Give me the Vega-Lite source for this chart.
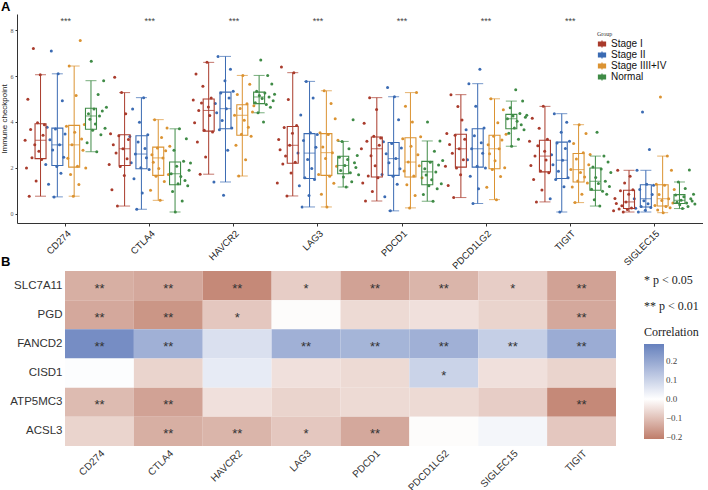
{
"$schema":"https://vega.github.io/schema/vega-lite/v6.json",
"background":"white",
"padding":{"left":0,"top":1,"right":0,"bottom":0},
"config":{"view":{"stroke":null},"font":"Liberation Sans","axis":{"labelFont":"Liberation Sans","titleFont":"Liberation Sans"}},
"datasets":{
"samples":[
{"s":"a01","grp":"Stage I"},{"s":"a02","grp":"Stage I"},{"s":"a03","grp":"Stage I"},{"s":"a04","grp":"Stage I"},{"s":"a05","grp":"Stage I"},{"s":"a06","grp":"Stage I"},{"s":"a07","grp":"Stage I"},{"s":"a08","grp":"Stage I"},{"s":"a09","grp":"Stage I"},{"s":"a10","grp":"Stage I"},{"s":"a11","grp":"Stage I"},{"s":"a12","grp":"Stage I"},{"s":"a13","grp":"Stage I"},{"s":"a14","grp":"Stage I"},{"s":"a15","grp":"Stage I"},
{"s":"b01","grp":"Stage II"},{"s":"b02","grp":"Stage II"},{"s":"b03","grp":"Stage II"},{"s":"b04","grp":"Stage II"},{"s":"b05","grp":"Stage II"},{"s":"b06","grp":"Stage II"},{"s":"b07","grp":"Stage II"},{"s":"b08","grp":"Stage II"},{"s":"b09","grp":"Stage II"},{"s":"b10","grp":"Stage II"},{"s":"b11","grp":"Stage II"},{"s":"b12","grp":"Stage II"},{"s":"b13","grp":"Stage II"},{"s":"b14","grp":"Stage II"},{"s":"b15","grp":"Stage II"},
{"s":"c01","grp":"Stage IIII+IV"},{"s":"c02","grp":"Stage IIII+IV"},{"s":"c03","grp":"Stage IIII+IV"},{"s":"c04","grp":"Stage IIII+IV"},{"s":"c05","grp":"Stage IIII+IV"},{"s":"c06","grp":"Stage IIII+IV"},{"s":"c07","grp":"Stage IIII+IV"},{"s":"c08","grp":"Stage IIII+IV"},{"s":"c09","grp":"Stage IIII+IV"},{"s":"c10","grp":"Stage IIII+IV"},{"s":"c11","grp":"Stage IIII+IV"},{"s":"c12","grp":"Stage IIII+IV"},{"s":"c13","grp":"Stage IIII+IV"},{"s":"c14","grp":"Stage IIII+IV"},{"s":"c15","grp":"Stage IIII+IV"},
{"s":"d01","grp":"Normal"},{"s":"d02","grp":"Normal"},{"s":"d03","grp":"Normal"},{"s":"d04","grp":"Normal"},{"s":"d05","grp":"Normal"},{"s":"d06","grp":"Normal"},{"s":"d07","grp":"Normal"},{"s":"d08","grp":"Normal"},{"s":"d09","grp":"Normal"},{"s":"d10","grp":"Normal"},{"s":"d11","grp":"Normal"},{"s":"d12","grp":"Normal"},{"s":"d13","grp":"Normal"},{"s":"d14","grp":"Normal"},{"s":"d15","grp":"Normal"}
],
"expr":[
{"s":"a01","g":"CD274","v":3.2},{"s":"a02","g":"CD274","v":1.99},{"s":"a03","g":"CD274","v":4.99},{"s":"a04","g":"CD274","v":0.76},{"s":"a05","g":"CD274","v":3.67},{"s":"a06","g":"CD274","v":2.44},{"s":"a07","g":"CD274","v":7.2},{"s":"a08","g":"CD274","v":3.0},{"s":"a09","g":"CD274","v":1.42},{"s":"a10","g":"CD274","v":3.96},{"s":"a11","g":"CD274","v":2.72},{"s":"a12","g":"CD274","v":6.06},{"s":"a13","g":"CD274","v":2.36},{"s":"a14","g":"CD274","v":3.42},{"s":"a15","g":"CD274","v":3.88},
{"s":"b01","g":"CD274","v":2.14},{"s":"b02","g":"CD274","v":3.77},{"s":"b03","g":"CD274","v":1.28},{"s":"b04","g":"CD274","v":3.22},{"s":"b05","g":"CD274","v":7.1},{"s":"b06","g":"CD274","v":2.78},{"s":"b07","g":"CD274","v":0.73},{"s":"b08","g":"CD274","v":3.69},{"s":"b09","g":"CD274","v":2.06},{"s":"b10","g":"CD274","v":6.1},{"s":"b11","g":"CD274","v":3.0},{"s":"b12","g":"CD274","v":1.76},{"s":"b13","g":"CD274","v":4.92},{"s":"b14","g":"CD274","v":2.46},{"s":"b15","g":"CD274","v":3.47},
{"s":"c01","g":"CD274","v":3.81},{"s":"c02","g":"CD274","v":2.42},{"s":"c03","g":"CD274","v":6.44},{"s":"c04","g":"CD274","v":1.71},{"s":"c05","g":"CD274","v":3.0},{"s":"c06","g":"CD274","v":0.76},{"s":"c07","g":"CD274","v":3.55},{"s":"c08","g":"CD274","v":5.15},{"s":"c09","g":"CD274","v":2.07},{"s":"c10","g":"CD274","v":1.27},{"s":"c11","g":"CD274","v":7.55},{"s":"c12","g":"CD274","v":3.26},{"s":"c13","g":"CD274","v":2.76},{"s":"c14","g":"CD274","v":3.89},{"s":"c15","g":"CD274","v":1.99},
{"s":"d01","g":"CD274","v":3.09},{"s":"d02","g":"CD274","v":4.36},{"s":"d03","g":"CD274","v":4.12},{"s":"d04","g":"CD274","v":6.65},{"s":"d05","g":"CD274","v":3.64},{"s":"d06","g":"CD274","v":4.56},{"s":"d07","g":"CD274","v":3.91},{"s":"d08","g":"CD274","v":2.7},{"s":"d09","g":"CD274","v":5.2},{"s":"d10","g":"CD274","v":4.26},{"s":"d11","g":"CD274","v":3.44},{"s":"d12","g":"CD274","v":4.48},{"s":"d13","g":"CD274","v":5.8},{"s":"d14","g":"CD274","v":3.72},{"s":"d15","g":"CD274","v":4.64},
{"s":"a01","g":"CTLA4","v":2.14},{"s":"a02","g":"CTLA4","v":3.48},{"s":"a03","g":"CTLA4","v":1.04},{"s":"a04","g":"CTLA4","v":3.01},{"s":"a05","g":"CTLA4","v":5.95},{"s":"a06","g":"CTLA4","v":2.65},{"s":"a07","g":"CTLA4","v":0.33},{"s":"a08","g":"CTLA4","v":3.4},{"s":"a09","g":"CTLA4","v":2.06},{"s":"a10","g":"CTLA4","v":5.28},{"s":"a11","g":"CTLA4","v":2.83},{"s":"a12","g":"CTLA4","v":1.66},{"s":"a13","g":"CTLA4","v":4.36},{"s":"a14","g":"CTLA4","v":2.39},{"s":"a15","g":"CTLA4","v":3.23},
{"s":"b01","g":"CTLA4","v":3.36},{"s":"b02","g":"CTLA4","v":2.22},{"s":"b03","g":"CTLA4","v":4.56},{"s":"b04","g":"CTLA4","v":1.52},{"s":"b05","g":"CTLA4","v":2.6},{"s":"b06","g":"CTLA4","v":0.19},{"s":"b07","g":"CTLA4","v":3.12},{"s":"b08","g":"CTLA4","v":3.99},{"s":"b09","g":"CTLA4","v":2.0},{"s":"b10","g":"CTLA4","v":0.9},{"s":"b11","g":"CTLA4","v":5.06},{"s":"b12","g":"CTLA4","v":2.84},{"s":"b13","g":"CTLA4","v":2.44},{"s":"b14","g":"CTLA4","v":3.44},{"s":"b15","g":"CTLA4","v":1.92},
{"s":"c01","g":"CTLA4","v":1.02},{"s":"c02","g":"CTLA4","v":2.57},{"s":"c03","g":"CTLA4","v":2.24},{"s":"c04","g":"CTLA4","v":4.1},{"s":"c05","g":"CTLA4","v":1.63},{"s":"c06","g":"CTLA4","v":2.86},{"s":"c07","g":"CTLA4","v":1.97},{"s":"c08","g":"CTLA4","v":0.58},{"s":"c09","g":"CTLA4","v":3.32},{"s":"c10","g":"CTLA4","v":2.43},{"s":"c11","g":"CTLA4","v":1.4},{"s":"c12","g":"CTLA4","v":2.74},{"s":"c13","g":"CTLA4","v":3.74},{"s":"c14","g":"CTLA4","v":1.71},{"s":"c15","g":"CTLA4","v":2.94},
{"s":"d01","g":"CTLA4","v":1.74},{"s":"d02","g":"CTLA4","v":0.96},{"s":"d03","g":"CTLA4","v":2.77},{"s":"d04","g":"CTLA4","v":0.07},{"s":"d05","g":"CTLA4","v":2.07},{"s":"d06","g":"CTLA4","v":1.3},{"s":"d07","g":"CTLA4","v":3.7},{"s":"d08","g":"CTLA4","v":1.62},{"s":"d09","g":"CTLA4","v":0.55},{"s":"d10","g":"CTLA4","v":2.29},{"s":"d11","g":"CTLA4","v":1.45},{"s":"d12","g":"CTLA4","v":3.27},{"s":"d13","g":"CTLA4","v":1.22},{"s":"d14","g":"CTLA4","v":1.89},{"s":"d15","g":"CTLA4","v":2.21},
{"s":"a01","g":"HAVCR2","v":4.96},{"s":"a02","g":"HAVCR2","v":3.96},{"s":"a03","g":"HAVCR2","v":6.09},{"s":"a04","g":"HAVCR2","v":3.13},{"s":"a05","g":"HAVCR2","v":4.5},{"s":"a06","g":"HAVCR2","v":1.72},{"s":"a07","g":"HAVCR2","v":4.83},{"s":"a08","g":"HAVCR2","v":5.56},{"s":"a09","g":"HAVCR2","v":3.64},{"s":"a10","g":"HAVCR2","v":2.47},{"s":"a11","g":"HAVCR2","v":6.6},{"s":"a12","g":"HAVCR2","v":4.65},{"s":"a13","g":"HAVCR2","v":4.28},{"s":"a14","g":"HAVCR2","v":5.04},{"s":"a15","g":"HAVCR2","v":3.56},
{"s":"b01","g":"HAVCR2","v":1.38},{"s":"b02","g":"HAVCR2","v":4.8},{"s":"b03","g":"HAVCR2","v":4.4},{"s":"b04","g":"HAVCR2","v":6.86},{"s":"b05","g":"HAVCR2","v":3.66},{"s":"b06","g":"HAVCR2","v":5.26},{"s":"b07","g":"HAVCR2","v":4.06},{"s":"b08","g":"HAVCR2","v":0.8},{"s":"b09","g":"HAVCR2","v":5.8},{"s":"b10","g":"HAVCR2","v":4.58},{"s":"b11","g":"HAVCR2","v":2.77},{"s":"b12","g":"HAVCR2","v":5.05},{"s":"b13","g":"HAVCR2","v":6.3},{"s":"b14","g":"HAVCR2","v":3.74},{"s":"b15","g":"HAVCR2","v":5.34},
{"s":"c01","g":"HAVCR2","v":4.29},{"s":"c02","g":"HAVCR2","v":2.98},{"s":"c03","g":"HAVCR2","v":5.2},{"s":"c04","g":"HAVCR2","v":1.64},{"s":"c05","g":"HAVCR2","v":4.59},{"s":"c06","g":"HAVCR2","v":3.46},{"s":"c07","g":"HAVCR2","v":6.03},{"s":"c08","g":"HAVCR2","v":4.07},{"s":"c09","g":"HAVCR2","v":2.35},{"s":"c10","g":"HAVCR2","v":4.79},{"s":"c11","g":"HAVCR2","v":3.77},{"s":"c12","g":"HAVCR2","v":5.65},{"s":"c13","g":"HAVCR2","v":3.38},{"s":"c14","g":"HAVCR2","v":4.43},{"s":"c15","g":"HAVCR2","v":4.71},
{"s":"d01","g":"HAVCR2","v":4.84},{"s":"d02","g":"HAVCR2","v":5.34},{"s":"d03","g":"HAVCR2","v":4.4},{"s":"d04","g":"HAVCR2","v":5.15},{"s":"d05","g":"HAVCR2","v":6.7},{"s":"d06","g":"HAVCR2","v":5.02},{"s":"d07","g":"HAVCR2","v":4.0},{"s":"d08","g":"HAVCR2","v":5.26},{"s":"d09","g":"HAVCR2","v":4.76},{"s":"d10","g":"HAVCR2","v":6.03},{"s":"d11","g":"HAVCR2","v":5.09},{"s":"d12","g":"HAVCR2","v":4.64},{"s":"d13","g":"HAVCR2","v":5.66},{"s":"d14","g":"HAVCR2","v":4.92},{"s":"d15","g":"HAVCR2","v":5.21},
{"s":"a01","g":"LAG3","v":1.34},{"s":"a02","g":"LAG3","v":3.23},{"s":"a03","g":"LAG3","v":2.79},{"s":"a04","g":"LAG3","v":6.4},{"s":"a05","g":"LAG3","v":2.16},{"s":"a06","g":"LAG3","v":3.76},{"s":"a07","g":"LAG3","v":2.51},{"s":"a08","g":"LAG3","v":0.77},{"s":"a09","g":"LAG3","v":4.98},{"s":"a10","g":"LAG3","v":2.98},{"s":"a11","g":"LAG3","v":1.77},{"s":"a12","g":"LAG3","v":3.51},{"s":"a13","g":"LAG3","v":6.15},{"s":"a14","g":"LAG3","v":2.24},{"s":"a15","g":"LAG3","v":3.84},
{"s":"b01","g":"LAG3","v":2.64},{"s":"b02","g":"LAG3","v":1.22},{"s":"b03","g":"LAG3","v":4.3},{"s":"b04","g":"LAG3","v":0.29},{"s":"b05","g":"LAG3","v":3.19},{"s":"b06","g":"LAG3","v":1.57},{"s":"b07","g":"LAG3","v":5.77},{"s":"b08","g":"LAG3","v":2.36},{"s":"b09","g":"LAG3","v":0.79},{"s":"b10","g":"LAG3","v":3.53},{"s":"b11","g":"LAG3","v":1.97},{"s":"b12","g":"LAG3","v":5.04},{"s":"b13","g":"LAG3","v":1.49},{"s":"b14","g":"LAG3","v":2.9},{"s":"b15","g":"LAG3","v":3.45},
{"s":"c01","g":"LAG3","v":1.71},{"s":"c02","g":"LAG3","v":3.53},{"s":"c03","g":"LAG3","v":0.84},{"s":"c04","g":"LAG3","v":2.91},{"s":"c05","g":"LAG3","v":5.36},{"s":"c06","g":"LAG3","v":2.41},{"s":"c07","g":"LAG3","v":0.29},{"s":"c08","g":"LAG3","v":3.45},{"s":"c09","g":"LAG3","v":1.63},{"s":"c10","g":"LAG3","v":4.8},{"s":"c11","g":"LAG3","v":2.66},{"s":"c12","g":"LAG3","v":1.33},{"s":"c13","g":"LAG3","v":4.14},{"s":"c14","g":"LAG3","v":2.07},{"s":"c15","g":"LAG3","v":3.2},
{"s":"d01","g":"LAG3","v":2.46},{"s":"d02","g":"LAG3","v":1.88},{"s":"d03","g":"LAG3","v":3.15},{"s":"d04","g":"LAG3","v":1.6},{"s":"d05","g":"LAG3","v":2.1},{"s":"d06","g":"LAG3","v":1.16},{"s":"d07","g":"LAG3","v":2.36},{"s":"d08","g":"LAG3","v":2.83},{"s":"d09","g":"LAG3","v":1.78},{"s":"d10","g":"LAG3","v":1.39},{"s":"d11","g":"LAG3","v":4.1},{"s":"d12","g":"LAG3","v":2.22},{"s":"d13","g":"LAG3","v":2.01},{"s":"d14","g":"LAG3","v":2.54},{"s":"d15","g":"LAG3","v":1.7},
{"s":"a01","g":"PDCD1","v":2.83},{"s":"a02","g":"PDCD1","v":1.34},{"s":"a03","g":"PDCD1","v":3.94},{"s":"a04","g":"PDCD1","v":0.55},{"s":"a05","g":"PDCD1","v":3.16},{"s":"a06","g":"PDCD1","v":1.64},{"s":"a07","g":"PDCD1","v":5.06},{"s":"a08","g":"PDCD1","v":2.52},{"s":"a09","g":"PDCD1","v":0.97},{"s":"a10","g":"PDCD1","v":3.38},{"s":"a11","g":"PDCD1","v":2.09},{"s":"a12","g":"PDCD1","v":4.54},{"s":"a13","g":"PDCD1","v":1.56},{"s":"a14","g":"PDCD1","v":2.98},{"s":"a15","g":"PDCD1","v":3.3},
{"s":"b01","g":"PDCD1","v":1.71},{"s":"b02","g":"PDCD1","v":3.14},{"s":"b03","g":"PDCD1","v":0.74},{"s":"b04","g":"PDCD1","v":2.61},{"s":"b05","g":"PDCD1","v":5.5},{"s":"b06","g":"PDCD1","v":2.22},{"s":"b07","g":"PDCD1","v":0.12},{"s":"b08","g":"PDCD1","v":3.06},{"s":"b09","g":"PDCD1","v":1.63},{"s":"b10","g":"PDCD1","v":5.1},{"s":"b11","g":"PDCD1","v":2.4},{"s":"b12","g":"PDCD1","v":1.28},{"s":"b13","g":"PDCD1","v":4.1},{"s":"b14","g":"PDCD1","v":1.96},{"s":"b15","g":"PDCD1","v":2.86},
{"s":"c01","g":"PDCD1","v":3.27},{"s":"c02","g":"PDCD1","v":1.86},{"s":"c03","g":"PDCD1","v":4.69},{"s":"c04","g":"PDCD1","v":1.26},{"s":"c05","g":"PDCD1","v":2.25},{"s":"c06","g":"PDCD1","v":0.25},{"s":"c07","g":"PDCD1","v":2.94},{"s":"c08","g":"PDCD1","v":4.0},{"s":"c09","g":"PDCD1","v":1.64},{"s":"c10","g":"PDCD1","v":0.79},{"s":"c11","g":"PDCD1","v":5.28},{"s":"c12","g":"PDCD1","v":2.57},{"s":"c13","g":"PDCD1","v":2.09},{"s":"c14","g":"PDCD1","v":3.35},{"s":"c15","g":"PDCD1","v":1.56},
{"s":"d01","g":"PDCD1","v":0.83},{"s":"d02","g":"PDCD1","v":1.96},{"s":"d03","g":"PDCD1","v":1.68},{"s":"d04","g":"PDCD1","v":4.0},{"s":"d05","g":"PDCD1","v":1.22},{"s":"d06","g":"PDCD1","v":2.24},{"s":"d07","g":"PDCD1","v":1.48},{"s":"d08","g":"PDCD1","v":0.54},{"s":"d09","g":"PDCD1","v":2.72},{"s":"d10","g":"PDCD1","v":1.82},{"s":"d11","g":"PDCD1","v":1.08},{"s":"d12","g":"PDCD1","v":2.12},{"s":"d13","g":"PDCD1","v":3.17},{"s":"d14","g":"PDCD1","v":1.3},{"s":"d15","g":"PDCD1","v":2.32},
{"s":"a01","g":"PDCD1LG2","v":2.07},{"s":"a02","g":"PDCD1LG2","v":3.5},{"s":"a03","g":"PDCD1LG2","v":1.23},{"s":"a04","g":"PDCD1LG2","v":3.02},{"s":"a05","g":"PDCD1LG2","v":5.19},{"s":"a06","g":"PDCD1LG2","v":2.63},{"s":"a07","g":"PDCD1LG2","v":0.7},{"s":"a08","g":"PDCD1LG2","v":3.42},{"s":"a09","g":"PDCD1LG2","v":1.99},{"s":"a10","g":"PDCD1LG2","v":4.67},{"s":"a11","g":"PDCD1LG2","v":2.83},{"s":"a12","g":"PDCD1LG2","v":1.7},{"s":"a13","g":"PDCD1LG2","v":4.08},{"s":"a14","g":"PDCD1LG2","v":2.35},{"s":"a15","g":"PDCD1LG2","v":3.24},
{"s":"b01","g":"PDCD1LG2","v":3.66},{"s":"b02","g":"PDCD1LG2","v":2.35},{"s":"b03","g":"PDCD1LG2","v":5.67},{"s":"b04","g":"PDCD1LG2","v":1.63},{"s":"b05","g":"PDCD1LG2","v":2.83},{"s":"b06","g":"PDCD1LG2","v":0.44},{"s":"b07","g":"PDCD1LG2","v":3.4},{"s":"b08","g":"PDCD1LG2","v":4.69},{"s":"b09","g":"PDCD1LG2","v":2.07},{"s":"b10","g":"PDCD1LG2","v":1.08},{"s":"b11","g":"PDCD1LG2","v":6.3},{"s":"b12","g":"PDCD1LG2","v":3.09},{"s":"b13","g":"PDCD1LG2","v":2.63},{"s":"b14","g":"PDCD1LG2","v":3.74},{"s":"b15","g":"PDCD1LG2","v":1.99},
{"s":"c01","g":"PDCD1LG2","v":1.15},{"s":"c02","g":"PDCD1LG2","v":3.01},{"s":"c03","g":"PDCD1LG2","v":2.61},{"s":"c04","g":"PDCD1LG2","v":5.01},{"s":"c05","g":"PDCD1LG2","v":1.92},{"s":"c06","g":"PDCD1LG2","v":3.38},{"s":"c07","g":"PDCD1LG2","v":2.31},{"s":"c08","g":"PDCD1LG2","v":0.61},{"s":"c09","g":"PDCD1LG2","v":3.97},{"s":"c10","g":"PDCD1LG2","v":2.83},{"s":"c11","g":"PDCD1LG2","v":1.62},{"s":"c12","g":"PDCD1LG2","v":3.21},{"s":"c13","g":"PDCD1LG2","v":4.53},{"s":"c14","g":"PDCD1LG2","v":2.0},{"s":"c15","g":"PDCD1LG2","v":3.46},
{"s":"d01","g":"PDCD1LG2","v":4.14},{"s":"d02","g":"PDCD1LG2","v":3.51},{"s":"d03","g":"PDCD1LG2","v":4.62},{"s":"d04","g":"PDCD1LG2","v":2.94},{"s":"d05","g":"PDCD1LG2","v":4.26},{"s":"d06","g":"PDCD1LG2","v":3.74},{"s":"d07","g":"PDCD1LG2","v":5.4},{"s":"d08","g":"PDCD1LG2","v":4.03},{"s":"d09","g":"PDCD1LG2","v":3.24},{"s":"d10","g":"PDCD1LG2","v":4.37},{"s":"d11","g":"PDCD1LG2","v":3.88},{"s":"d12","g":"PDCD1LG2","v":4.91},{"s":"d13","g":"PDCD1LG2","v":3.66},{"s":"d14","g":"PDCD1LG2","v":4.2},{"s":"d15","g":"PDCD1LG2","v":4.29},
{"s":"a01","g":"TIGIT","v":3.16},{"s":"a02","g":"TIGIT","v":2.1},{"s":"a03","g":"TIGIT","v":4.16},{"s":"a04","g":"TIGIT","v":1.49},{"s":"a05","g":"TIGIT","v":2.51},{"s":"a06","g":"TIGIT","v":0.51},{"s":"a07","g":"TIGIT","v":2.96},{"s":"a08","g":"TIGIT","v":3.72},{"s":"a09","g":"TIGIT","v":1.86},{"s":"a10","g":"TIGIT","v":1.03},{"s":"a11","g":"TIGIT","v":4.68},{"s":"a12","g":"TIGIT","v":2.72},{"s":"a13","g":"TIGIT","v":2.34},{"s":"a14","g":"TIGIT","v":3.24},{"s":"a15","g":"TIGIT","v":1.78},
{"s":"b01","g":"TIGIT","v":0.65},{"s":"b02","g":"TIGIT","v":2.57},{"s":"b03","g":"TIGIT","v":2.13},{"s":"b04","g":"TIGIT","v":4.36},{"s":"b05","g":"TIGIT","v":1.49},{"s":"b06","g":"TIGIT","v":3.08},{"s":"b07","g":"TIGIT","v":1.85},{"s":"b08","g":"TIGIT","v":0.07},{"s":"b09","g":"TIGIT","v":3.55},{"s":"b10","g":"TIGIT","v":2.33},{"s":"b11","g":"TIGIT","v":1.17},{"s":"b12","g":"TIGIT","v":2.84},{"s":"b13","g":"TIGIT","v":3.99},{"s":"b14","g":"TIGIT","v":1.57},{"s":"b15","g":"TIGIT","v":3.16},
{"s":"c01","g":"TIGIT","v":1.92},{"s":"c02","g":"TIGIT","v":1.16},{"s":"c03","g":"TIGIT","v":3.06},{"s":"c04","g":"TIGIT","v":0.48},{"s":"c05","g":"TIGIT","v":2.38},{"s":"c06","g":"TIGIT","v":1.42},{"s":"c07","g":"TIGIT","v":3.88},{"s":"c08","g":"TIGIT","v":1.79},{"s":"c09","g":"TIGIT","v":0.84},{"s":"c10","g":"TIGIT","v":2.66},{"s":"c11","g":"TIGIT","v":1.6},{"s":"c12","g":"TIGIT","v":3.5},{"s":"c13","g":"TIGIT","v":1.34},{"s":"c14","g":"TIGIT","v":2.13},{"s":"c15","g":"TIGIT","v":2.58},
{"s":"d01","g":"TIGIT","v":1.06},{"s":"d02","g":"TIGIT","v":2.03},{"s":"d03","g":"TIGIT","v":0.61},{"s":"d04","g":"TIGIT","v":1.58},{"s":"d05","g":"TIGIT","v":3.55},{"s":"d06","g":"TIGIT","v":1.31},{"s":"d07","g":"TIGIT","v":0.33},{"s":"d08","g":"TIGIT","v":1.95},{"s":"d09","g":"TIGIT","v":0.98},{"s":"d10","g":"TIGIT","v":2.51},{"s":"d11","g":"TIGIT","v":1.41},{"s":"d12","g":"TIGIT","v":0.85},{"s":"d13","g":"TIGIT","v":2.25},{"s":"d14","g":"TIGIT","v":1.18},{"s":"d15","g":"TIGIT","v":1.79},
{"s":"a01","g":"SIGLEC15","v":0.13},{"s":"a02","g":"SIGLEC15","v":0.66},{"s":"a03","g":"SIGLEC15","v":0.44},{"s":"a04","g":"SIGLEC15","v":1.89},{"s":"a05","g":"SIGLEC15","v":0.2},{"s":"a06","g":"SIGLEC15","v":1.0},{"s":"a07","g":"SIGLEC15","v":0.34},{"s":"a08","g":"SIGLEC15","v":0.07},{"s":"a09","g":"SIGLEC15","v":1.34},{"s":"a10","g":"SIGLEC15","v":0.51},{"s":"a11","g":"SIGLEC15","v":0.18},{"s":"a12","g":"SIGLEC15","v":0.84},{"s":"a13","g":"SIGLEC15","v":1.63},{"s":"a14","g":"SIGLEC15","v":0.24},{"s":"a15","g":"SIGLEC15","v":1.04},
{"s":"b01","g":"SIGLEC15","v":0.65},{"s":"b02","g":"SIGLEC15","v":0.23},{"s":"b03","g":"SIGLEC15","v":1.89},{"s":"b04","g":"SIGLEC15","v":0.07},{"s":"b05","g":"SIGLEC15","v":1.05},{"s":"b06","g":"SIGLEC15","v":0.31},{"s":"b07","g":"SIGLEC15","v":4.43},{"s":"b08","g":"SIGLEC15","v":0.56},{"s":"b09","g":"SIGLEC15","v":0.15},{"s":"b10","g":"SIGLEC15","v":1.28},{"s":"b11","g":"SIGLEC15","v":0.43},{"s":"b12","g":"SIGLEC15","v":2.8},{"s":"b13","g":"SIGLEC15","v":0.27},{"s":"b14","g":"SIGLEC15","v":0.83},{"s":"b15","g":"SIGLEC15","v":1.24},
{"s":"c01","g":"SIGLEC15","v":0.35},{"s":"c02","g":"SIGLEC15","v":1.28},{"s":"c03","g":"SIGLEC15","v":0.16},{"s":"c04","g":"SIGLEC15","v":0.83},{"s":"c05","g":"SIGLEC15","v":5.09},{"s":"c06","g":"SIGLEC15","v":0.57},{"s":"c07","g":"SIGLEC15","v":0.04},{"s":"c08","g":"SIGLEC15","v":1.24},{"s":"c09","g":"SIGLEC15","v":0.31},{"s":"c10","g":"SIGLEC15","v":2.51},{"s":"c11","g":"SIGLEC15","v":0.65},{"s":"c12","g":"SIGLEC15","v":0.26},{"s":"c13","g":"SIGLEC15","v":1.89},{"s":"c14","g":"SIGLEC15","v":0.46},{"s":"c15","g":"SIGLEC15","v":1.05},
{"s":"d01","g":"SIGLEC15","v":0.81},{"s":"d02","g":"SIGLEC15","v":0.5},{"s":"d03","g":"SIGLEC15","v":1.38},{"s":"d04","g":"SIGLEC15","v":0.39},{"s":"d05","g":"SIGLEC15","v":0.58},{"s":"d06","g":"SIGLEC15","v":0.22},{"s":"d07","g":"SIGLEC15","v":0.74},{"s":"d08","g":"SIGLEC15","v":1.1},{"s":"d09","g":"SIGLEC15","v":0.46},{"s":"d10","g":"SIGLEC15","v":0.31},{"s":"d11","g":"SIGLEC15","v":1.9},{"s":"d12","g":"SIGLEC15","v":0.65},{"s":"d13","g":"SIGLEC15","v":0.55},{"s":"d14","g":"SIGLEC15","v":0.85},{"s":"d15","g":"SIGLEC15","v":0.42}
],
"stars":[{"g":"CD274","t":"***"},{"g":"CTLA4","t":"***"},{"g":"HAVCR2","t":"***"},{"g":"LAG3","t":"***"},{"g":"PDCD1","t":"***"},{"g":"PDCD1LG2","t":"***"},{"g":"TIGIT","t":"***"}],
"corr":[
{"r":"SLC7A11","c":"CD274","v":-0.13,"p":"**"},{"r":"SLC7A11","c":"CTLA4","v":-0.14,"p":"**"},{"r":"SLC7A11","c":"HAVCR2","v":-0.19,"p":"**"},{"r":"SLC7A11","c":"LAG3","v":-0.08,"p":"*"},{"r":"SLC7A11","c":"PDCD1","v":-0.15,"p":"**"},{"r":"SLC7A11","c":"PDCD1LG2","v":-0.12,"p":"**"},{"r":"SLC7A11","c":"SIGLEC15","v":-0.08,"p":"*"},{"r":"SLC7A11","c":"TIGIT","v":-0.15,"p":"**"},
{"r":"PGD","c":"CD274","v":-0.14,"p":"**"},{"r":"PGD","c":"CTLA4","v":-0.17,"p":"**"},{"r":"PGD","c":"HAVCR2","v":-0.09,"p":"*"},{"r":"PGD","c":"LAG3","v":-0.005,"p":""},{"r":"PGD","c":"PDCD1","v":-0.06,"p":""},{"r":"PGD","c":"PDCD1LG2","v":-0.05,"p":""},{"r":"PGD","c":"SIGLEC15","v":-0.07,"p":""},{"r":"PGD","c":"TIGIT","v":-0.14,"p":"**"},
{"r":"FANCD2","c":"CD274","v":0.26,"p":"**"},{"r":"FANCD2","c":"CTLA4","v":0.18,"p":"**"},{"r":"FANCD2","c":"HAVCR2","v":0.07,"p":""},{"r":"FANCD2","c":"LAG3","v":0.18,"p":"**"},{"r":"FANCD2","c":"PDCD1","v":0.17,"p":"**"},{"r":"FANCD2","c":"PDCD1LG2","v":0.18,"p":"**"},{"r":"FANCD2","c":"SIGLEC15","v":0.11,"p":"**"},{"r":"FANCD2","c":"TIGIT","v":0.19,"p":"**"},
{"r":"CISD1","c":"CD274","v":0.005,"p":""},{"r":"CISD1","c":"CTLA4","v":-0.07,"p":""},{"r":"CISD1","c":"HAVCR2","v":0.045,"p":""},{"r":"CISD1","c":"LAG3","v":-0.05,"p":""},{"r":"CISD1","c":"PDCD1","v":-0.06,"p":""},{"r":"CISD1","c":"PDCD1LG2","v":0.1,"p":"*"},{"r":"CISD1","c":"SIGLEC15","v":-0.05,"p":""},{"r":"CISD1","c":"TIGIT","v":-0.07,"p":""},
{"r":"ATP5MC3","c":"CD274","v":-0.11,"p":"**"},{"r":"ATP5MC3","c":"CTLA4","v":-0.15,"p":"**"},{"r":"ATP5MC3","c":"HAVCR2","v":-0.05,"p":""},{"r":"ATP5MC3","c":"LAG3","v":-0.07,"p":""},{"r":"ATP5MC3","c":"PDCD1","v":-0.06,"p":""},{"r":"ATP5MC3","c":"PDCD1LG2","v":-0.06,"p":""},{"r":"ATP5MC3","c":"SIGLEC15","v":-0.08,"p":""},{"r":"ATP5MC3","c":"TIGIT","v":-0.19,"p":"**"},
{"r":"ACSL3","c":"CD274","v":-0.07,"p":""},{"r":"ACSL3","c":"CTLA4","v":-0.13,"p":"**"},{"r":"ACSL3","c":"HAVCR2","v":-0.12,"p":"**"},{"r":"ACSL3","c":"LAG3","v":-0.09,"p":"*"},{"r":"ACSL3","c":"PDCD1","v":-0.14,"p":"**"},{"r":"ACSL3","c":"PDCD1LG2","v":-0.005,"p":""},{"r":"ACSL3","c":"SIGLEC15","v":0.02,"p":""},{"r":"ACSL3","c":"TIGIT","v":-0.09,"p":""}
]
},
"columns":1,
"align":"none",
"spacing":-15,
"resolve":{"scale":{"x":"independent","y":"independent","color":"independent","xOffset":"independent"}},
"concat":[
{
"width":686,"height":209,
"title":{"text":"A","anchor":"start","frame":"group","dx":-16,"fontSize":13,"fontWeight":"bold","offset":0,"font":"Liberation Sans","color":"#000"},
"data":{"name":"expr"},
"transform":[
{"lookup":"s","from":{"data":{"name":"samples"},"key":"s","fields":["grp"]}},
{"lookup":"s","from":{"data":{"name":"samples"},"key":"s","fields":["grp"]},"as":["stage"]}
],
"resolve":{"scale":{"xOffset":"independent","color":"independent"},"legend":{"color":"independent"}},
"layer":[
{
"mark":{"type":"circle","size":9,"opacity":1},
"encoding":{
"x":{"field":"g","type":"nominal","sort":["CD274","CTLA4","HAVCR2","LAG3","PDCD1","PDCD1LG2","TIGIT","SIGLEC15"],"scale":{"paddingOuter":0.08,"paddingInner":0},"axis":{"title":null,"labelAngle":-45,"labelFontSize":9.5,"labelColor":"#222","tickSize":3,"tickColor":"#333","domainColor":"#333","labelPadding":2}},
"xOffset":{"field":"s","type":"nominal","scale":{"paddingOuter":7.5,"paddingInner":0}},
"y":{"field":"v","type":"quantitative","scale":{"domain":[-0.41,8.71],"nice":false,"zero":false},"axis":{"title":"Immune checkpoint","titleFontSize":8,"titleFontWeight":"normal","titleColor":"#222","titlePadding":2,"values":[0,2,4,6,8],"labelFontSize":6,"labelFont":"Liberation Serif","labelColor":"#555","tickSize":2,"tickColor":"#333","domainColor":"#333","grid":false,"labelPadding":2}},
"color":{"field":"stage","type":"nominal","scale":{"domain":["Stage I","Stage II","Stage IIII+IV","Normal"],"range":["#A93B2C","#3B6BB3","#DB9332","#3F8B46"]},"legend":null}
}
},
{
"transform":[
{"joinaggregate":[{"op":"q1","field":"v","as":"q1"},{"op":"median","field":"v","as":"med"},{"op":"q3","field":"v","as":"q3"}],"groupby":["g","grp"]},
{"filter":"datum.v >= datum.q1 - 1.5*(datum.q3-datum.q1) && datum.v <= datum.q3 + 1.5*(datum.q3-datum.q1)"},
{"aggregate":[{"op":"min","field":"v","as":"lo"},{"op":"max","field":"v","as":"hi"}],"groupby":["g","grp","q1","med","q3"]}
],
"encoding":{
"x":{"field":"g","type":"nominal","sort":["CD274","CTLA4","HAVCR2","LAG3","PDCD1","PDCD1LG2","TIGIT","SIGLEC15"]},
"xOffset":{"field":"grp","type":"nominal","scale":{"domain":["Stage I","Stage II","Stage IIII+IV","Normal"],"paddingOuter":0.5,"paddingInner":0}},
"color":{"field":"grp","type":"nominal","scale":{"domain":["Stage I","Stage II","Stage IIII+IV","Normal"],"range":["#A93B2C","#3B6BB3","#DB9332","#3F8B46"]},
"legend":{"title":"Group","orient":"none","legendX":580,"legendY":17,"titleFontSize":6,"titleFont":"Liberation Serif","titleFontWeight":"normal","titleColor":"#333","titlePadding":2,"labelFontSize":10,"labelFont":"Liberation Sans","labelColor":"#111","symbolType":"M-1,-0.55H1V0.55H-1Z M-1,0H1 M0,-1V-0.55 M0,0.55V1","symbolSize":50,"symbolStrokeWidth":1.2,"symbolFillColor":"transparent","rowPadding":-1,"labelOffset":4}}
},
"layer":[
{"mark":{"type":"rule","strokeWidth":1},"encoding":{"y":{"field":"lo","type":"quantitative"},"y2":{"field":"hi"}}},
{"mark":{"type":"bar","size":11,"filled":false,"strokeWidth":1.1},"encoding":{"y":{"field":"q1","type":"quantitative"},"y2":{"field":"q3"}}},
{"mark":{"type":"tick","size":11,"thickness":1},"encoding":{"y":{"field":"lo","type":"quantitative"}}},
{"mark":{"type":"tick","size":11,"thickness":1},"encoding":{"y":{"field":"hi","type":"quantitative"}}},
{"mark":{"type":"tick","size":11,"thickness":1.1},"encoding":{"y":{"field":"med","type":"quantitative"}}}
]
},
{
"data":{"name":"stars"},
"mark":{"type":"text","fontSize":9,"color":"#444","baseline":"middle"},
"encoding":{
"x":{"field":"g","type":"nominal","sort":["CD274","CTLA4","HAVCR2","LAG3","PDCD1","PDCD1LG2","TIGIT","SIGLEC15"]},
"y":{"datum":8.4,"type":"quantitative"},
"text":{"field":"t"}
}
}
]
},
{
"width":599,"height":175,
"title":{"text":"B","anchor":"start","frame":"group","dx":-16,"fontSize":13,"fontWeight":"bold","offset":2,"font":"Liberation Sans","color":"#000"},
"data":{"name":"corr"},
"encoding":{
"x":{"field":"c","type":"nominal","sort":["CD274","CTLA4","HAVCR2","LAG3","PDCD1","PDCD1LG2","SIGLEC15","TIGIT"],"scale":{"paddingInner":0,"paddingOuter":0,"range":[48,599]},"axis":{"title":null,"labelAngle":-45,"labelFontSize":10,"labelColor":"#333","ticks":false,"domain":false,"labelPadding":2}},
"y":{"field":"r","type":"nominal","sort":["SLC7A11","PGD","FANCD2","CISD1","ATP5MC3","ACSL3"],"scale":{"paddingInner":0,"paddingOuter":0},"axis":{"title":null,"labelFontSize":11.5,"labelColor":"#333","ticks":false,"domain":false,"labelPadding":3,"offset":-48,"minExtent":0}}
},
"layer":[
{"mark":{"type":"rect"},"encoding":{"color":{"field":"v","type":"quantitative","scale":{"type":"linear","domain":[-0.21,0,0.29],"range":["#BF7D6A","#FFFFFF","#6680BD"],"interpolate":"rgb"},
"legend":{"title":["* p < 0.05","** p < 0.01","Correlation"],"orient":"none","legendX":627,"legendY":4,"direction":"vertical","gradientLength":95,"gradientThickness":20,"gradientStrokeWidth":0,"values":[0.2,0.1,0,-0.1,-0.2],"format":".1f","labelFont":"Liberation Serif","labelFontSize":9,"labelColor":"#444","titleFont":"Liberation Serif","titleFontSize":12,"titleFontWeight":"normal","titleColor":"#222","titleLineHeight":26,"titlePadding":5}}}},
{"mark":{"type":"text","fontSize":13,"color":"#333","baseline":"middle","dy":3},"encoding":{"text":{"field":"p"}}}
]
}
]
}
